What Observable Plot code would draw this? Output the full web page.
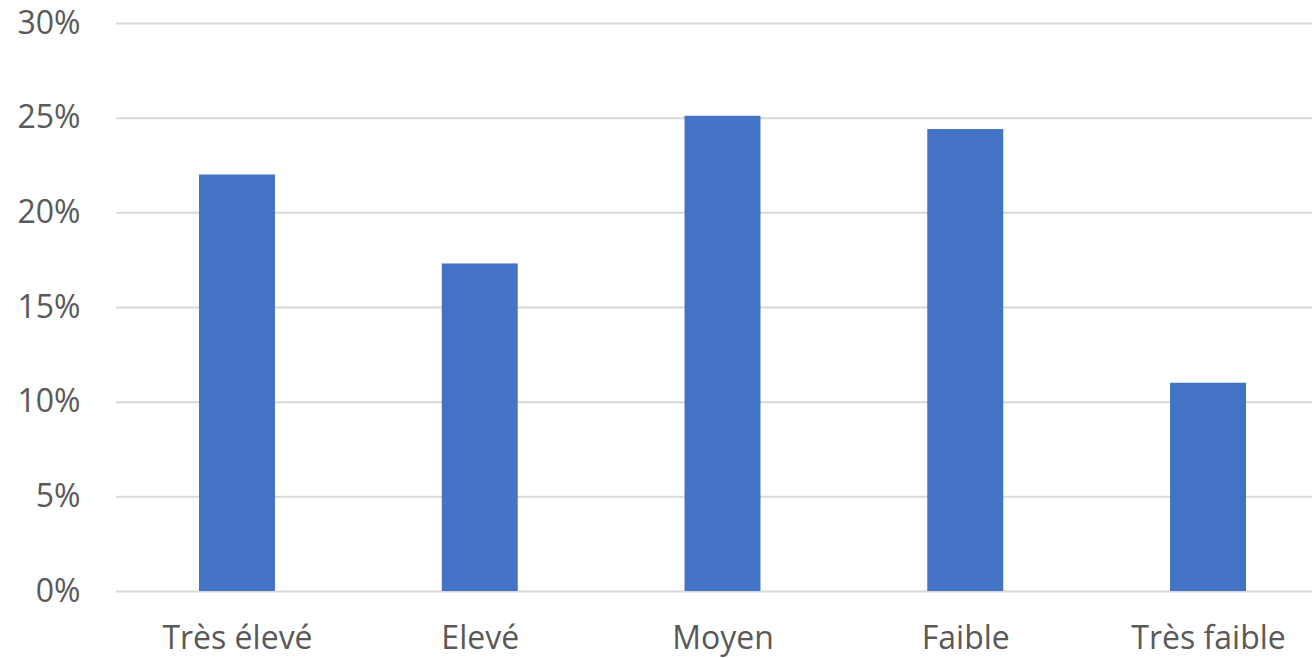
<!DOCTYPE html>
<html>
<head>
<meta charset="utf-8">
<script src="https://cdn.jsdelivr.net/npm/d3@7"></script>
<script src="https://cdn.jsdelivr.net/npm/@observablehq/plot@0.6"></script>
<style>
  html, body { margin: 0; padding: 0; background: #fff; overflow: hidden; }
  #chart svg { display: block; }
</style>
</head>
<body>
<div id="chart"></div>
<script>
// Share of respondents by level
const categories = ["Très élevé", "Elevé", "Moyen", "Faible", "Très faible"];
const shares = [0.220, 0.173, 0.251, 0.244, 0.110];
const yTicks = [0, 0.05, 0.10, 0.15, 0.20, 0.25, 0.30];

const data = categories.map((c, i) => ({category: c, share: shares[i]}));

const font = "'Open Sans', 'Noto Sans', sans-serif";
const pct = d => Math.round(d * 100) + "%";

const chart = Plot.plot({
  width: 1312,
  height: 658,
  marginTop: 23,
  marginBottom: 67,
  marginLeft: 116,
  marginRight: 0,
  style: {fontFamily: font, fontSize: "32px", color: "#595959", background: "#fff"},
  x: {
    domain: categories,
    // the last category band runs a little past the right edge of the page
    range: [115.6, 1329.4],
    paddingInner: 0.687,
    paddingOuter: 0.3435,
    round: false,
    label: null
  },
  y: {
    domain: [0, 0.30],
    label: null
  },
  marks: [
    Plot.gridY(yTicks, {stroke: "#d9d9d9", strokeOpacity: 1, strokeWidth: 2}),
    Plot.barY(data, {x: "category", y: "share", fill: "#4472c4"}),
    Plot.axisY(yTicks, {tickSize: 0, tickPadding: 36, tickFormat: pct, fill: "#595959", fontSize: 32}),
    Plot.axisX({tickSize: 0, tickPadding: 35, fill: "#595959", fontSize: 32})
  ]
});
document.getElementById("chart").appendChild(chart);
</script>
</body>
</html>
